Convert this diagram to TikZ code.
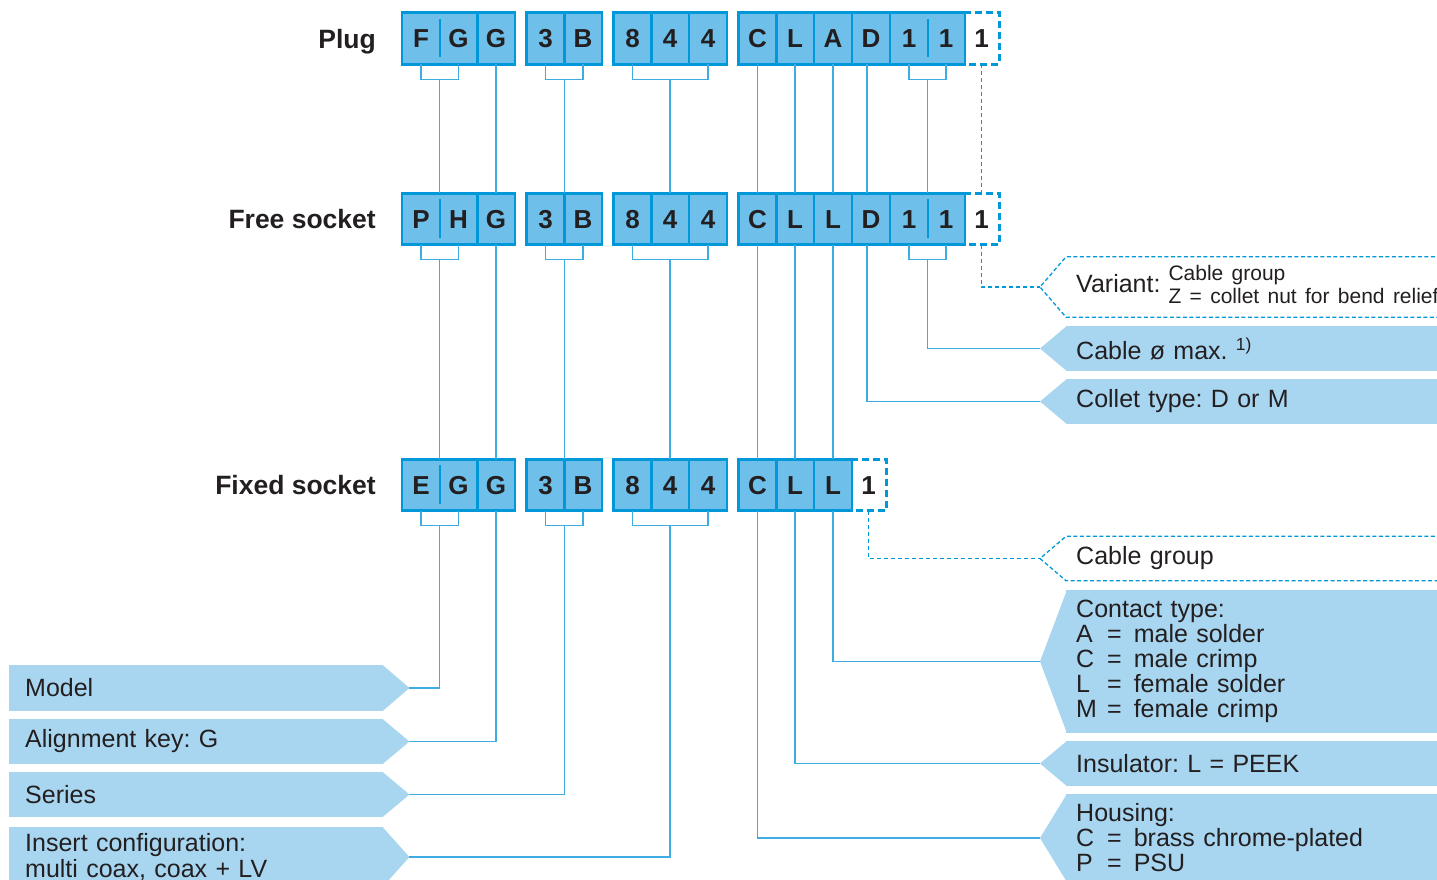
\documentclass[tikz,border=0pt]{standalone}
\usepackage{fontspec}
\setmainfont{Liberation Sans}
\usetikzlibrary{calc}
\definecolor{boxfill}{RGB}{110,192,234}
\definecolor{boxline}{RGB}{0,152,216}
\definecolor{tagfill}{RGB}{168,214,240}
\definecolor{connc}{RGB}{60,172,226}
\definecolor{ink}{RGB}{35,31,32}
\newcommand\mytagfont{\fontsize{25}{25}\selectfont\frenchspacing}
\newcommand\mylbl[1]{\makebox[31pt][l]{#1}=\hspace{12pt}}
\begin{document}
\begin{tikzpicture}[x=1pt,y=-1pt,
  cell/.style={fill=boxfill, minimum width=37.7pt, minimum height=51pt, inner sep=0pt,
    text height=18.6pt, text depth=0pt, font=\fontsize{26}{30}\selectfont\bfseries, text=ink},
  dcell/.style={cell, fill=none, minimum width=35pt},
  boxln/.style={draw=boxline, line width=2.8pt},
  partln/.style={draw=boxline, line width=2.4pt},
  dbox/.style={draw=boxline, line width=2.8pt, dash pattern=on 7pt off 4pt},
  conn/.style={draw=connc, line width=1.4pt},
  dconn/.style={draw=boxline, line width=1.8pt, dash pattern=on 4pt off 3pt},
  dtag/.style={draw=boxline, line width=1.3pt, dash pattern=on 4pt off 2.5pt},
  rowlbl/.style={anchor=base east, inner sep=0pt, font=\fontsize{26.5}{30}\selectfont\bfseries, text=ink},
  ltag/.style={fill=tagfill, anchor=west, inner xsep=16pt, inner ysep=0pt, text width=342pt,
    align=left, font=\mytagfont, text=ink},
  rtag/.style={fill=tagfill, anchor=west, inner xsep=10pt, inner ysep=0pt, text width=420pt,
    align=left, font=\mytagfont, text=ink}
]
\useasboundingbox (0,0) rectangle (1437,879);
\clip (0,0) rectangle (1437,879);

% ---------- row labels
\node[rowlbl] (lplug) at (376,48) {Plug};
\node[rowlbl] (lfree) at (376,228.5) {Free socket};
\node[rowlbl] (lfixed) at (376,494.5) {Fixed socket};

% ---------- Plug
\node[cell] (P1) at (421,38.5) {F};
\node[cell] (P2) at (458.5,38.5) {G};
\node[cell] (P3) at (496,38.5) {G};
\node[cell] (P4) at (545.5,38.5) {3};
\node[cell] (P5) at (583,38.5) {B};
\node[cell] (P6) at (632.5,38.5) {8};
\node[cell] (P7) at (670,38.5) {4};
\node[cell] (P8) at (708,38.5) {4};
\node[cell] (P9) at (757.5,38.5) {C};
\node[cell] (P10) at (795,38.5) {L};
\node[cell] (P11) at (833,38.5) {A};
\node[cell] (P12) at (871,38.5) {D};
\node[cell] (P13) at (909,38.5) {1};
\node[cell] (P14) at (946,38.5) {1};
\node[dcell] (P15) at (981.5,38.5) {1};

% ---------- Free socket
\node[cell] (F1) at (421,219) {P};
\node[cell] (F2) at (458.5,219) {H};
\node[cell] (F3) at (496,219) {G};
\node[cell] (F4) at (545.5,219) {3};
\node[cell] (F5) at (583,219) {B};
\node[cell] (F6) at (632.5,219) {8};
\node[cell] (F7) at (670,219) {4};
\node[cell] (F8) at (708,219) {4};
\node[cell] (F9) at (757.5,219) {C};
\node[cell] (F10) at (795,219) {L};
\node[cell] (F11) at (833,219) {L};
\node[cell] (F12) at (871,219) {D};
\node[cell] (F13) at (909,219) {1};
\node[cell] (F14) at (946,219) {1};
\node[dcell] (F15) at (981.5,219) {1};

% ---------- Fixed socket
\node[cell] (X1) at (421,485) {E};
\node[cell] (X2) at (458.5,485) {G};
\node[cell] (X3) at (496,485) {G};
\node[cell] (X4) at (545.5,485) {3};
\node[cell] (X5) at (583,485) {B};
\node[cell] (X6) at (632.5,485) {8};
\node[cell] (X7) at (670,485) {4};
\node[cell] (X8) at (708,485) {4};
\node[cell] (X9) at (757.5,485) {C};
\node[cell] (X10) at (795,485) {L};
\node[cell] (X11) at (833,485) {L};
\node[dcell] (X12) at (868.5,485) {1};

% ---------- outlines and dividers
\foreach \r in {P,F,X}{
  \draw[boxln] (\r1.north west) rectangle (\r3.south east);
  \draw[boxln] (\r4.north west) rectangle (\r5.south east);
  \draw[boxln] (\r6.north west) rectangle (\r8.south east);
  \foreach \i in {2,4,6,7,9,10}{
    \draw[boxln] (\r\i.north east) -- (\r\i.south east);
  }
  \draw[partln] ($(\r1.north east)+(0,6)$) -- ($(\r1.south east)+(0,-7)$);
}
\foreach \r in {P,F}{
  \draw[boxln] (\r9.north west) rectangle (\r14.south east);
  \foreach \i in {11,12}{
    \draw[boxln] (\r\i.north east) -- (\r\i.south east);
  }
  \draw[partln] ($(\r13.north east)+(0,6)$) -- ($(\r13.south east)+(0,-7)$);
  \draw[dbox] (\r15.north west) -- (\r15.north east) -- (\r15.south east) -- (\r15.south west);
}
\draw[boxln] (X9.north west) rectangle (X11.south east);
\draw[dbox] (X12.north west) -- (X12.north east) -- (X12.south east) -- (X12.south west);

% ---------- left tags
\node[ltag, minimum height=46pt] (model) at (9,688) {Model};
\node[ltag, minimum height=45pt] (align) at (9,741.5) {Alignment key: G};
\node[ltag, minimum height=45pt] (series) at (9,794.5) {Series};
\node[ltag, minimum height=60pt, font=\fontsize{25}{26}\selectfont\frenchspacing] (insert) at (9,857) {Insert configuration:\\multi coax, coax + LV};
\foreach \n in {model,align,series,insert}{
  \coordinate (\n tip) at ($(\n.east)+(26,0)$);
  \fill[tagfill] ($(\n.north east)+(-1,0)$) -- (\n tip) -- ($(\n.south east)+(-1,0)$) -- cycle;
}

% ---------- right tags
\node[rtag, fill=none, minimum height=60pt] (variant) at (1066,287)
  {Variant:\hspace{8pt}{\fontsize{21}{23}\selectfont\begin{tabular}[c]{@{}l@{}}Cable group\\\makebox[258pt][s]{Z = collet nut for bend relief}\end{tabular}}};
\node[rtag, minimum height=45pt] (cable) at (1066,348.5) {Cable ø max. \textsuperscript{1)}};
\node[rtag, minimum height=45pt] (collet) at (1066,401.5) {Collet type: D or M};
\node[rtag, fill=none, minimum height=44pt] (cgroup) at (1066,558.5) {Cable group};
\node[rtag, minimum height=143pt] (contact) at (1066,661.5)
  {Contact type:\\\mylbl{A}male solder\\\mylbl{C}male crimp\\\mylbl{L}female solder\\\mylbl{M}female crimp};
\node[rtag, minimum height=45pt] (insul) at (1066,763.5) {Insulator: L = PEEK};
\node[rtag, minimum height=88pt] (housing) at (1066,838)
  {Housing:\\\mylbl{C}brass chrome-plated\\\mylbl{P}PSU};
\foreach \n in {variant,cable,collet,cgroup,contact,insul,housing}{
  \coordinate (\n tip) at ($(\n.west)+(-26,0)$);
}
\foreach \n in {cable,collet,contact,insul,housing}{
  \fill[tagfill] ($(\n.north west)+(1,0)$) -- (\n tip) -- ($(\n.south west)+(1,0)$) -- cycle;
}
\foreach \n in {variant,cgroup}{
  \draw[dtag] (\n.north east) -- (\n.north west) -- (\n tip) -- (\n.south west) -- (\n.south east);
}

% ---------- brackets
\foreach \r/\s in {P/p,F/f,X/x}{
  \draw[conn] (\r1.south) -- ++(0,15) -| (\r2.south);
  \coordinate (\s b1) at ($(\r1.south)!0.5!(\r2.south)+(0,15)$);
  \draw[conn] (\r4.south) -- ++(0,15) -| (\r5.south);
  \coordinate (\s b2) at ($(\r4.south)!0.5!(\r5.south)+(0,15)$);
  \draw[conn] (\r6.south) -- ++(0,15) -| (\r8.south);
  \coordinate (\s b3) at ($(\r7.south)+(0,15)$);
}
\foreach \r/\s in {P/p,F/f}{
  \draw[conn] (\r13.south) -- ++(0,15) -| (\r14.south);
  \coordinate (\s b4) at ($(\r13.south)!0.5!(\r14.south)+(0,15)$);
}

% ---------- plug -> free socket
\draw[conn] (pb1) -- (pb1 |- F1.north);
\draw[conn] (P3.south) -- (F3.north);
\draw[conn] (pb2) -- (pb2 |- F4.north);
\draw[conn] (pb3) -- (pb3 |- F7.north);
\draw[conn] (P9.south) -- (F9.north);
\draw[conn] (P10.south) -- (F10.north);
\draw[conn] (P11.south) -- (F11.north);
\draw[conn] ($(P12.south)+(-4,0)$) -- ($(F12.north)+(-4,0)$);
\draw[conn] (pb4) -- (pb4 |- F13.north);
\draw[dconn] (P15.south) -- (F15.north);

% ---------- free socket -> fixed socket / tags
\draw[conn] (fb1) -- (fb1 |- X1.north);
\draw[conn] (F3.south) -- (X3.north);
\draw[conn] (fb2) -- (fb2 |- X4.north);
\draw[conn] (fb3) -- (fb3 |- X7.north);
\draw[conn] (F9.south) -- (X9.north);
\draw[conn] (F10.south) -- (X10.north);
\draw[conn] (F11.south) -- (X11.north);
\draw[conn] ($(F12.south)+(-4,0)$) |- (collettip);
\draw[conn] (fb4) |- (cabletip);
\draw[dconn] (F15.south) |- (varianttip);

% ---------- fixed socket -> tags
\draw[conn] (xb1) |- (modeltip);
\draw[conn] (X3.south) |- (aligntip);
\draw[conn] (xb2) |- (seriestip);
\draw[conn] (xb3) |- (inserttip);
\draw[conn] (X9.south) |- (housingtip);
\draw[conn] (X10.south) |- (insultip);
\draw[conn] (X11.south) |- (contacttip);
\draw[dconn] (X12.south) |- (cgrouptip);
\end{tikzpicture}
\end{document}
